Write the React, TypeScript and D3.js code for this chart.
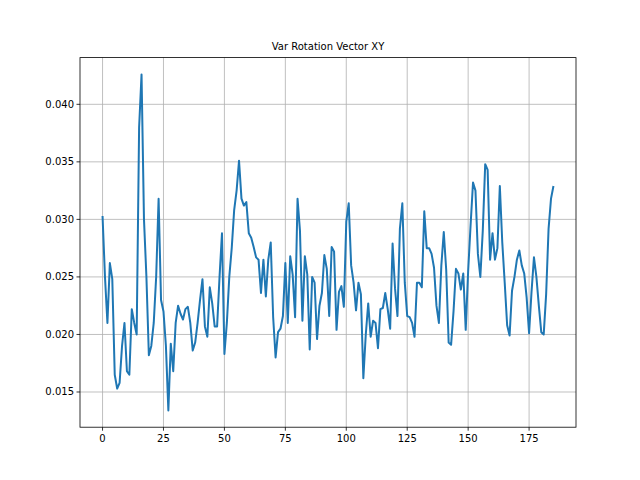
import React from "react";
import * as d3 from "d3";

const values: number[] = [
0.0303,0.025,0.021,0.0262,0.0248,0.0165,0.0153,0.0158,0.019,0.021,
0.0168,0.0165,0.0222,0.021,0.020,0.038,0.0426,0.030,0.025,0.0182,
0.019,0.021,0.025,0.0318,0.023,0.022,0.019,0.0134,0.0192,0.0168,
0.021,0.0225,0.0218,0.0213,0.0222,0.0224,0.021,0.0186,0.0193,0.021,
0.023,0.0248,0.0207,0.0198,0.0241,0.0227,0.0207,0.0207,0.025,0.0288,
0.0183,0.021,0.025,0.0275,0.0308,0.0325,0.0351,0.0318,0.0312,0.0315,
0.0288,0.0284,0.0276,0.0267,0.0265,0.0236,0.0265,0.0233,0.0265,0.028,
0.0215,0.018,0.0202,0.0205,0.0216,0.0262,0.021,0.0268,0.0252,0.0215,
0.0318,0.029,0.0212,0.0268,0.0252,0.0187,0.025,0.0245,0.0196,0.0225,
0.0236,0.0269,0.0257,0.0216,0.0276,0.0272,0.0204,0.0237,0.0242,0.0224,
0.0298,0.0314,0.026,0.0245,0.0221,0.0245,0.0235,0.0162,0.02,0.0227,
0.0198,0.0212,0.021,0.0188,0.0222,0.0223,0.0236,0.0222,0.0205,0.0279,
0.024,0.0216,0.0292,0.0314,0.0245,0.0216,0.0215,0.021,0.0198,0.0245,
0.0245,0.0241,0.0307,0.0275,0.0275,0.027,0.0258,0.0225,0.021,0.026,
0.0289,0.0256,0.0193,0.0191,0.022,0.0257,0.0253,0.0239,0.0253,0.0204,
0.0255,0.0295,0.0332,0.0325,0.027,0.025,0.029,0.0348,0.0343,0.0265,
0.0288,0.0265,0.0275,0.0329,0.028,0.0245,0.0208,0.0199,0.0238,0.025,
0.0265,0.0273,0.026,0.0253,0.0232,0.0201,0.0237,0.0267,0.025,0.0225,
0.0202,0.02,0.0235,0.0292,0.0318,0.0329
];
const xTicks = [0, 25, 50, 75, 100, 125, 150, 175];
const yTicks = [0.015, 0.02, 0.025, 0.03, 0.035, 0.04];
const title = "Var Rotation Vector XY";

export default function App() {
  const L = 80, R = 576, T = 57.6, B = 427.2;
  const n = values.length - 1;
  const xm = n * 0.05;
  const x = d3.scaleLinear().domain([-xm, n + xm]).range([L, R]);
  const [mn, mx] = d3.extent(values) as [number, number];
  const ym = (mx - mn) * 0.05;
  const y = d3.scaleLinear().domain([mn - ym, mx + ym]).range([B, T]);
  const line = d3.line<number>().x((_, i) => x(i)).y(d => y(d));
  const font = "DejaVu Sans, sans-serif";
  return (
    <svg width={640} height={480} style={{ position: "absolute", left: 0, top: 0 }} fontFamily={font}>
      <rect width={640} height={480} fill="white" />
      {xTicks.map(t => (
        <g key={"x" + t}>
          <line x1={x(t)} x2={x(t)} y1={T} y2={B} stroke="#b0b0b0" strokeWidth={0.8} />
          <line x1={x(t)} x2={x(t)} y1={B} y2={B + 3.5} stroke="black" strokeWidth={0.8} />
          <text x={x(t)} y={B + 15} fontSize={10} textAnchor="middle">{t}</text>
        </g>
      ))}
      {yTicks.map(t => (
        <g key={"y" + t}>
          <line x1={L} x2={R} y1={y(t)} y2={y(t)} stroke="#b0b0b0" strokeWidth={0.8} />
          <line x1={L - 3.5} x2={L} y1={y(t)} y2={y(t)} stroke="black" strokeWidth={0.8} />
          <text x={L - 6} y={y(t) + 3.5} fontSize={10} textAnchor="end">{t.toFixed(3)}</text>
        </g>
      ))}
      <path d={line(values) ?? ""} fill="none" stroke="#1f77b4" strokeWidth={2} strokeLinejoin="round" />
      <rect x={L} y={T} width={R - L} height={B - T} fill="none" stroke="black" strokeWidth={0.8} />
      <text x={(L + R) / 2} y={T - 8} fontSize={10} textAnchor="middle">{title}</text>
    </svg>
  );
}
